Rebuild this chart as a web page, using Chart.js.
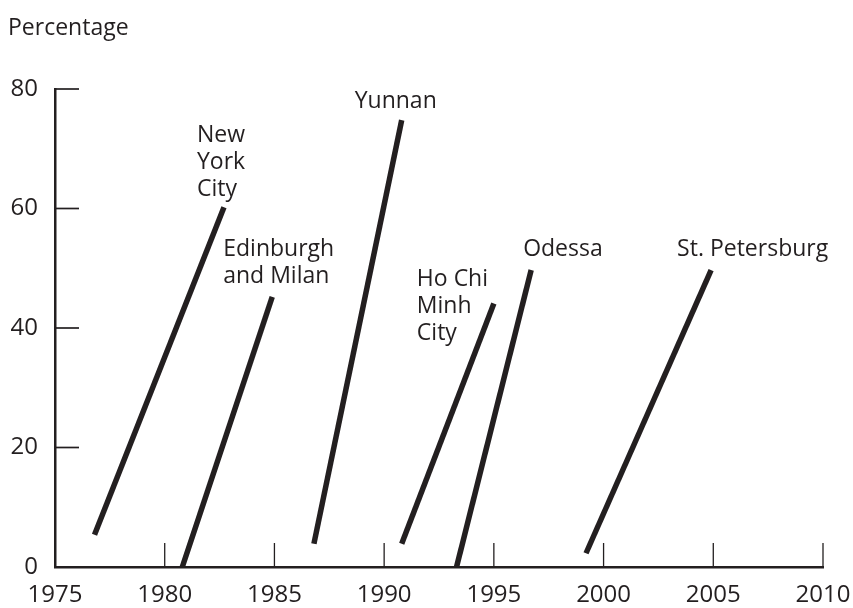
<!DOCTYPE html>
<html>
<head>
<meta charset="utf-8">
<script src="https://cdn.jsdelivr.net/npm/chart.js@4"></script>
<style>
    html, body { margin: 0; padding: 0; background: #fff; }
    #wrap { width: 853px; height: 608px; }
</style>
</head>
<body>
<div id="wrap"><canvas id="myChart"></canvas></div>
<script>
const cities = ["New York City", "Edinburgh and Milan", "Yunnan", "Ho Chi Minh City", "Odessa", "St. Petersburg"];
const startYears = [1976.8, 1980.8, 1986.8, 1990.8, 1993.3, 1999.2];
const startValues = [5.4, 0, 3.9, 3.9, 0, 2.3];
const endYears = [1982.7, 1984.9, 1990.8, 1995.0, 1996.7, 2004.9];
const endValues = [60.2, 45.2, 74.8, 44.1, 49.7, 49.7];
const xTicks = [1975, 1980, 1985, 1990, 1995, 2000, 2005, 2010];
const yTicks = [0, 20, 40, 60, 80];

const ink = "#231f20";
const fontFamily = "'Open Sans', sans-serif";

// label lines and placement relative to the top end of each line (pixels)
const labelLines = [["New", "York", "City"], ["Edinburgh", "and Milan"], ["Yunnan"], ["Ho Chi", "Minh", "City"], ["Odessa"], ["St. Petersburg"]];
const labelOffsets = [[-27, -11], [-49, -14], [-47, -12], [-77, 36], [-8, -14], [-34, -14]];

const datasets = cities.map((city, i) => ({
    label: city,
    data: [
        { x: startYears[i], y: startValues[i] },
        { x: endYears[i], y: endValues[i] },
    ],
    borderColor: ink,
    borderWidth: 5.5,
    pointRadius: 0,
    fill: false,
}));

const extras = {
    id: "extras",
    afterDraw(chart) {
        const ctx = chart.ctx;
        const xs = chart.scales.x;
        const ys = chart.scales.y;
        const area = chart.chartArea;
        ctx.save();
        ctx.strokeStyle = ink;
        ctx.lineWidth = 1.3;
        xTicks.forEach((v) => {
            const px = xs.getPixelForValue(v);
            ctx.beginPath();
            ctx.moveTo(px, area.bottom);
            ctx.lineTo(px, area.bottom - 24);
            ctx.stroke();
        });
        ctx.lineWidth = 1.7;
        yTicks.forEach((v) => {
            const py = ys.getPixelForValue(v);
            ctx.beginPath();
            ctx.moveTo(area.left, py);
            ctx.lineTo(area.left + 24, py);
            ctx.stroke();
        });

        ctx.fillStyle = ink;
        ctx.font = "23px " + fontFamily;
        ctx.textAlign = "left";
        ctx.textBaseline = "alphabetic";
        ctx.fillText("Percentage", 8, 35);

        chart.data.datasets.forEach((ds, i) => {
            const top = chart.getDatasetMeta(i).data[1];
            const lines = labelLines[i];
            const off = labelOffsets[i];
            lines.forEach((t, j) => {
                const y = top.y + off[1] - (lines.length - 1 - j) * 27;
                ctx.fillText(t, top.x + off[0], y);
            });
        });
        ctx.restore();
    },
};

new Chart(document.querySelector("#myChart"), {
    type: "line",
    data: { datasets: datasets },
    options: {
        responsive: true,
        maintainAspectRatio: false,
        animation: false,
        layout: { padding: { top: 89, right: 30, bottom: 0, left: 0 } },
        plugins: {
            legend: { display: false },
            tooltip: { enabled: false },
        },
        scales: {
            x: {
                type: "linear",
                min: 1975,
                max: 2010,
                afterBuildTicks: (s) => { s.ticks = xTicks.map((v) => ({ value: v })); },
                afterFit: (s) => {
                    s.height = 41;
                    s.paddingLeft = 0;
                    s.paddingRight = 0;
                },
                grid: { display: false, drawTicks: false },
                border: { display: true, color: ink, width: 2.5 },
                ticks: {
                    color: ink,
                    padding: 14,
                    font: { family: fontFamily, size: 24 },
                    callback: (v) => String(v),
                },
            },
            y: {
                min: 0,
                max: 80,
                afterBuildTicks: (s) => { s.ticks = yTicks.map((v) => ({ value: v })); },
                afterFit: (s) => {
                    s.width = 55;
                    s.paddingTop = 0;
                    s.paddingBottom = 0;
                },
                grid: { display: false, drawTicks: false },
                border: { display: true, color: ink, width: 2.5 },
                ticks: {
                    color: ink,
                    padding: 17,
                    font: { family: fontFamily, size: 24 },
                },
            },
        },
    },
    plugins: [extras],
});
</script>
</body>
</html>
